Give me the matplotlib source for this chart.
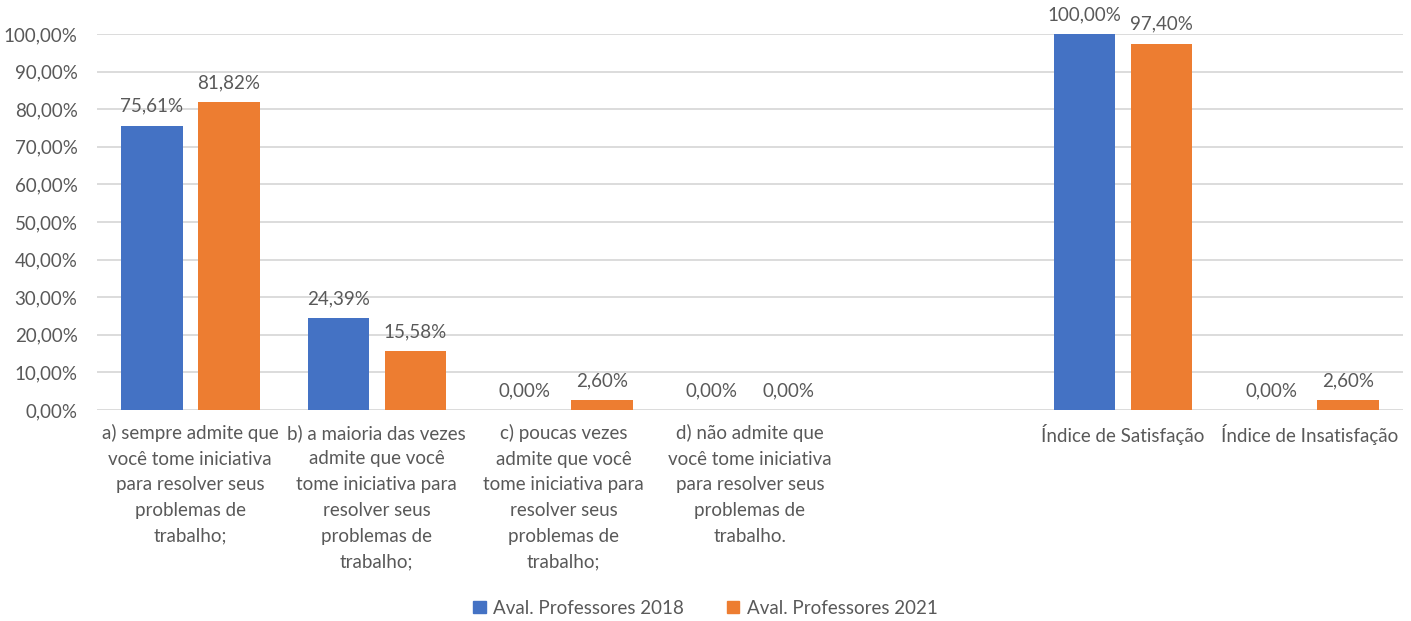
import numpy as np
import matplotlib.pyplot as plt
from matplotlib.patches import Patch

categories = [
    "a) sempre admite que\nvocê tome iniciativa\npara resolver seus\nproblemas de\ntrabalho;",
    "b) a maioria das vezes\nadmite que você\ntome iniciativa para\nresolver seus\nproblemas de\ntrabalho;",
    "c) poucas vezes\nadmite que você\ntome iniciativa para\nresolver seus\nproblemas de\ntrabalho;",
    "d) não admite que\nvocê tome iniciativa\npara resolver seus\nproblemas de\ntrabalho.",
    "",
    "Índice de Satisfação",
    "Índice de Insatisfação",
]
prof_2018 = [75.61, 24.39, 0.00, 0.00, None, 100.00, 0.00]
prof_2021 = [81.82, 15.58, 2.60, 0.00, None, 97.40, 2.60]
series_names = ["Aval. Professores 2018", "Aval. Professores 2021"]
colors = ["#4472C4", "#ED7D31"]
text_color = "#595959"

plt.rcParams['font.family'] = ['Lato', 'DejaVu Sans']
fs = 13.5

fig = plt.figure(figsize=(14.11, 6.21), dpi=100)
ax = fig.add_axes([97 / 1411, 1 - 410 / 621, (1403 - 97) / 1411, 376 / 621])

x = np.arange(len(categories))
width = 0.33
offset = 0.206

def fmt(v):
    return f"{v:.2f}".replace(".", ",") + "%"

for vals, sign, col in [(prof_2018, -1, colors[0]), (prof_2021, 1, colors[1])]:
    for xi, v in zip(x, vals):
        if v is None:
            continue
        ax.bar(xi + sign * offset, v, width, color=col, zorder=3)
        ax.annotate(fmt(v), (xi + sign * offset, v), xytext=(0, 8),
                    textcoords="offset points", ha="center", va="bottom",
                    fontsize=fs, color=text_color)

ax.set_xlim(-0.5, len(categories) - 0.5)
ax.set_ylim(0, 100)
ax.set_yticks(np.arange(0, 101, 10))
ax.set_yticklabels([fmt(v) for v in np.arange(0, 101, 10)])
ax.set_xticks(x)
ax.set_xticklabels(categories, fontsize=fs, color=text_color, linespacing=1.62)
ax.tick_params(axis="y", labelsize=fs, labelcolor=text_color, length=0, pad=14)
ax.tick_params(axis="x", length=0, pad=10)
ax.yaxis.grid(True, color="#D9D9D9", linewidth=1.3, zorder=0)
ax.set_axisbelow(True)
for s in ax.spines.values():
    s.set_visible(False)

handles = [Patch(color=c) for c in colors]
fig.legend(handles, series_names, loc="center", bbox_to_anchor=(0.5, 1 - 608 / 621),
           ncol=2, frameon=False, fontsize=fs, labelcolor=text_color,
           handlelength=0.65, handleheight=0.65, columnspacing=2.3, handletextpad=0.4)

fig.savefig("out.png", dpi=100)
